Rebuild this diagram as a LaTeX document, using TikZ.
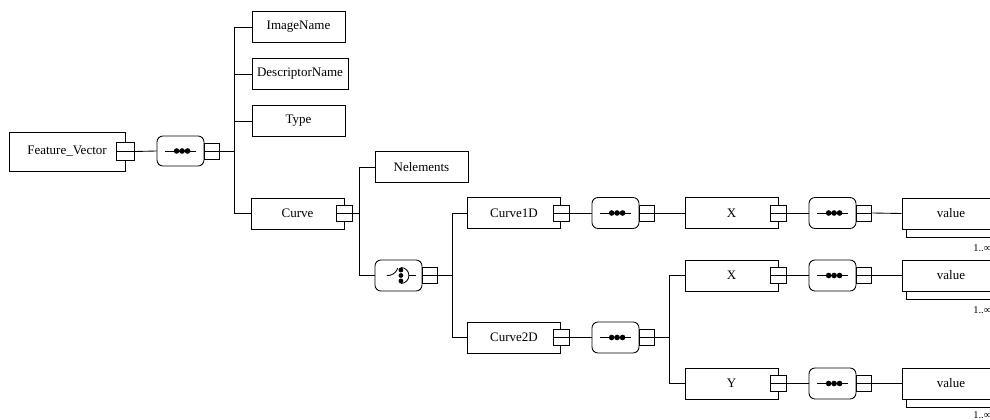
\documentclass[tikz,border=0pt]{standalone}
\usepackage{fontspec}
\setmainfont{Liberation Serif}
\usetikzlibrary{shadows}
\begin{document}
\begin{tikzpicture}[x=0.75pt,y=-0.75pt, line width=0.65pt,
  font=\fontsize{9.75}{11}\selectfont,
  elem/.style={draw, fill=white, minimum width=69.75pt, minimum height=23.25pt, inner sep=0pt},
  comp/.style={draw, fill=white, rounded corners=4.5pt, minimum width=35.25pt, minimum height=23.25pt, inner sep=0pt},
  esq/.style={draw, fill=white, minimum width=12pt, minimum height=12pt, inner sep=0pt,
    path picture={\draw (path picture bounding box.west) -- (path picture bounding box.east);}},
  csq/.style={esq, minimum width=11.25pt, anchor=west},
  seqsym/.style={path picture={
    \begin{scope}[shift={(path picture bounding box.center)}, x=1pt, y=1pt]
      \draw[black] (-11.4,0) -- (11.6,0);
      \fill[black] (-2.9,0) circle[radius=2.1pt] (1.2,0) circle[radius=2.1pt] (5.3,0) circle[radius=2.1pt];
    \end{scope}}},
  choicesym/.style={path picture={
    \begin{scope}[shift={(path picture bounding box.center)}, x=1pt, y=1pt]
      \draw[black] (-8.7,0) -- (-3.2,0) -- (-0.5,5.6);
      \draw[black] (1.8,6) arc[start angle=90, end angle=-90, radius=6pt];
      \draw[black] (7.8,0) -- (13,0);
      \fill[black] (1.8,4.1) circle[radius=1.8pt] (1.8,0) circle[radius=1.8pt] (1.8,-4.1) circle[radius=1.8pt];
    \end{scope}}},
  valbox/.style={draw, fill=white, minimum width=73.5pt, minimum height=23.25pt, inner sep=0pt,
    copy shadow={shadow xshift=3pt, shadow yshift=-6pt, fill=white, draw=black}},
  mult/.style={font=\fontsize{7.8}{9}\selectfont, inner sep=0pt, anchor=west}
]
\useasboundingbox (0,0) rectangle (990,420);

% root
\node[elem, minimum width=87pt, minimum height=29.25pt] (fv) at (67,151.5) {Feature\_Vector\hspace{12pt}};
\node[esq, minimum width=14pt, minimum height=14pt] (fvsq) at (fv.east) {};
\node[comp, seqsym, minimum height=22.5pt] (s1) at (180.5,151) {};
\node[csq] (s1sq) at (s1.east) {};
\coordinate (b1) at (234,151);

% children of Feature_Vector
\node[elem] (img) at (298.5,27) {ImageName};
\node[elem, minimum width=72pt] (desc) at (300,74) {DescriptorName};
\node[elem] (type) at (298.5,121) {Type};
\node[elem] (curve) at (297.5,213.5) {Curve};
\node[esq] (curvesq) at (curve.east) {};
\coordinate (b2) at (359,213.5);

% children of Curve
\node[elem] (nel) at (421.5,167) {Nelements};
\node[comp, choicesym] (ch) at (398.5,275.5) {};
\node[csq] (chsq) at (ch.east) {};
\coordinate (b3) at (452,275.5);

% Curve1D branch
\node[elem] (c1) at (514,213) {Curve1D\hspace{4pt}};
\node[esq] (c1sq) at (c1.east) {};
\node[comp, seqsym] (s2) at (615.5,213) {};
\node[csq] (s2sq) at (s2.east) {};
\node[elem] (x1) at (731.5,213) {X};
\node[esq] (x1sq) at (x1.east) {};
\node[comp, seqsym] (s3) at (832.5,213) {};
\node[csq] (s3sq) at (s3.east) {};
\node[valbox] (v1) at (951,213.5) {value};
\node[mult] (m1) at (973,248.5) {1..∞};

% Curve2D branch
\node[elem] (c2) at (514,337.5) {Curve2D\hspace{4pt}};
\node[esq] (c2sq) at (c2.east) {};
\node[comp, seqsym] (s4) at (615.5,337.5) {};
\node[csq] (s4sq) at (s4.east) {};
\coordinate (b4) at (669,337.5);

\node[elem] (x2) at (731.5,275.5) {X};
\node[esq] (x2sq) at (x2.east) {};
\node[comp, seqsym] (s5) at (832.5,275.5) {};
\node[csq] (s5sq) at (s5.east) {};
\node[valbox] (v2) at (951,275.5) {value};
\node[mult] (m2) at (973,310.5) {1..∞};

\node[elem] (yy) at (731.5,383.5) {Y};
\node[esq] (yysq) at (yy.east) {};
\node[comp, seqsym] (s6) at (832.5,383.5) {};
\node[csq] (s6sq) at (s6.east) {};
\node[valbox] (v3) at (951,383.5) {value};
\node[mult] (m3) at (973,415) {1..∞};

% connectors
\draw (fvsq.east) -- (s1.west);
\draw (s1sq.east) -- (b1);
\draw (b1) |- (img.west);
\draw (b1) |- (desc.west);
\draw (b1) |- (type.west);
\draw (b1) |- (curve.west);

\draw (curvesq.east) -- (b2);
\draw (b2) |- (nel.west);
\draw (b2) |- (ch.west);

\draw (chsq.east) -- (b3);
\draw (b3) |- (c1.west);
\draw (b3) |- (c2.west);

\draw (c1sq.east) -- (s2.west);
\draw (s2sq.east) -- (x1.west);
\draw (x1sq.east) -- (s3.west);
\draw (s3sq.east) -- (v1.west);

\draw (c2sq.east) -- (s4.west);
\draw (s4sq.east) -- (b4);
\draw (b4) |- (x2.west);
\draw (b4) |- (yy.west);

\draw (x2sq.east) -- (s5.west);
\draw (s5sq.east) -- (v2.west);
\draw (yysq.east) -- (s6.west);
\draw (s6sq.east) -- (v3.west);
\end{tikzpicture}
\end{document}
